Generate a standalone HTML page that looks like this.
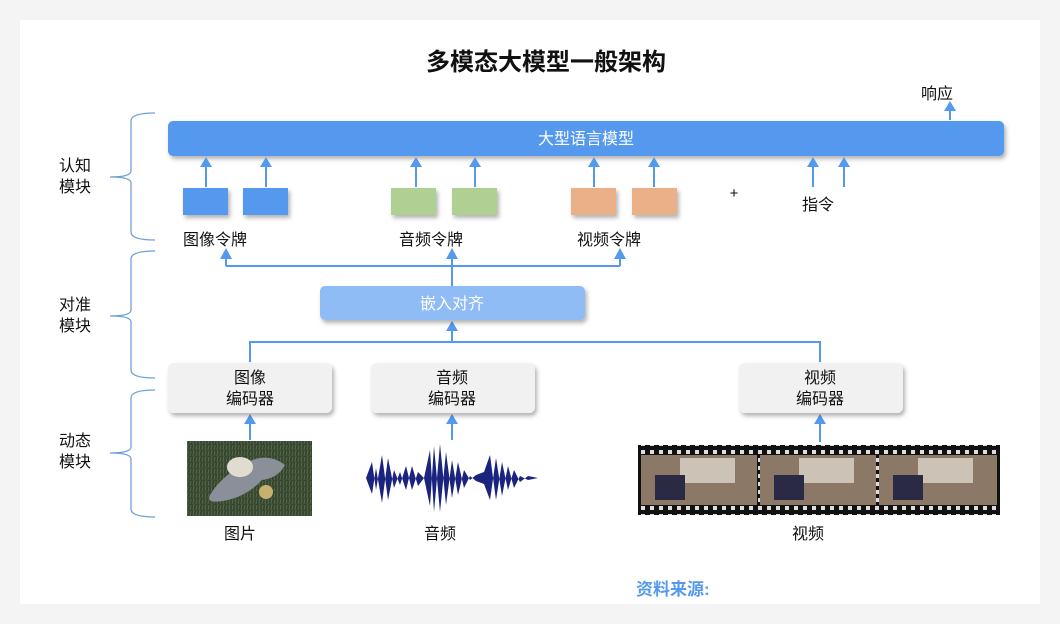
<!DOCTYPE html>
<html><head><meta charset="utf-8"><style>
html,body{margin:0;padding:0;background:#f4f4f4;}
svg{display:block;font-family:"Liberation Sans","Noto Sans CJK SC",sans-serif;}
</style></head><body>
<svg width="1060" height="624" viewBox="0 0 1060 624" xmlns="http://www.w3.org/2000/svg">
<defs>
<filter id="sh" x="-10%" y="-30%" width="120%" height="170%"><feDropShadow dx="2" dy="3" stdDeviation="2" flood-color="#000" flood-opacity="0.3"/></filter>
<pattern id="grass" width="6" height="6" patternUnits="userSpaceOnUse"><rect width="6" height="6" fill="#35452e"/><path d="M1 6 L2 0 M4 6 L5 1" stroke="#56684a" stroke-width="1"/></pattern>
<pattern id="perf" width="9" height="8" patternUnits="userSpaceOnUse"><rect width="9" height="8" fill="#111"/><rect x="2" y="2" width="4" height="4" fill="#ddd"/></pattern>
</defs>
<rect x="20" y="20" width="1020" height="584" fill="#fff"/>
<text x="546" y="70" font-size="24" font-weight="bold" text-anchor="middle" fill="#111">多模态大模型一般架构</text>

<g fill="none" stroke="#6fa0d8" stroke-width="1.3">
<path d="M155,113 Q131,113 131,121 L131,171 Q131,177 110,177 Q131,177 131,183 L131,232 Q131,240 155,240"/>
<path d="M155,251 Q131,251 131,259 L131,310 Q131,316 110,316 Q131,316 131,322 L131,370 Q131,378 155,378"/>
<path d="M155,390 Q131,390 131,398 L131,447 Q131,453 110,453 Q131,453 131,459 L131,509 Q131,517 155,517"/>
</g>
<g font-size="16" fill="#111">
<text x="59" y="171">认知</text><text x="59" y="192">模块</text>
<text x="59" y="310">对准</text><text x="59" y="331">模块</text>
<text x="59" y="446">动态</text><text x="59" y="467">模块</text>
</g>

<rect x="168" y="121" width="836" height="35" rx="5" fill="#5599ee" filter="url(#sh)"/>
<text x="586" y="144" font-size="16" fill="#fff" text-anchor="middle">大型语言模型</text>
<text x="937" y="99" font-size="16" fill="#111" text-anchor="middle">响应</text>

<g stroke="#5599ee" stroke-width="2" fill="none">
<path d="M950,120 V110"/>
<path d="M206,187 V166 M266,187 V166 M416,187 V166 M475,187 V166 M594,187 V166 M654,187 V166 M813,187 V166 M844,187 V166"/>
<path d="M226,266 H620 M226,266 V258 M620,266 V258 M452,286 V258"/>
<path d="M250,362 V342 H820 V362 M452,342 V330"/>
<path d="M250,440 V423 M452,440 V423 M820,442 V423"/>
</g>
<g fill="#5599ee">
<path d="M944,111 L950,101 L956,111Z"/>
<path d="M200,167 L206,157 L212,167Z M260,167 L266,157 L272,167Z M410,167 L416,157 L422,167Z M469,167 L475,157 L481,167Z M588,167 L594,157 L600,167Z M648,167 L654,157 L660,167Z M807,167 L813,157 L819,167Z M838,167 L844,157 L850,167Z"/>
<path d="M220,259 L226,248 L232,259Z M614,259 L620,248 L626,259Z M446,259 L452,248 L458,259Z"/>
<path d="M446,331 L452,321 L458,331Z"/>
<path d="M244,424 L250,414 L256,424Z M446,424 L452,414 L458,424Z M814,424 L820,414 L826,424Z"/>
</g>

<g filter="url(#sh)">
<rect x="183" y="188" width="45" height="27" fill="#5599ee"/>
<rect x="243" y="188" width="45" height="27" fill="#5599ee"/>
<rect x="391" y="188" width="45" height="27" fill="#b0cf92"/>
<rect x="452" y="188" width="45" height="27" fill="#b0cf92"/>
<rect x="571" y="188" width="45" height="27" fill="#ebb088"/>
<rect x="632" y="188" width="45" height="27" fill="#ebb088"/>
</g>
<text x="734" y="198" font-size="15" fill="#111" text-anchor="middle">+</text>
<g font-size="16" fill="#111" text-anchor="middle">
<text x="818" y="210">指令</text>
<text x="215" y="245">图像令牌</text>
<text x="431" y="245">音频令牌</text>
<text x="609" y="245">视频令牌</text>
</g>

<rect x="320" y="286" width="265" height="34" rx="5" fill="#8fbcf5" filter="url(#sh)"/>
<text x="452" y="309" font-size="16" fill="#fff" text-anchor="middle">嵌入对齐</text>

<g filter="url(#sh)" fill="#f1f1f1">
<rect x="168" y="363" width="164" height="50" rx="6"/>
<rect x="371" y="363" width="164" height="50" rx="6"/>
<rect x="739" y="363" width="164" height="50" rx="6"/>
</g>
<g font-size="16" fill="#111" text-anchor="middle">
<text x="250" y="383">图像</text><text x="250" y="404">编码器</text>
<text x="452" y="383">音频</text><text x="452" y="404">编码器</text>
<text x="820" y="383">视频</text><text x="820" y="404">编码器</text>
</g>

<rect x="187" y="441" width="125" height="75" fill="url(#grass)"/>
<path d="M210,495 Q222,475 248,462 Q268,452 285,465 Q278,478 262,480 Q248,495 228,500 Q205,505 210,495Z" fill="#8a8f9a"/>
<ellipse cx="240" cy="467" rx="13" ry="10" fill="#e0dcd0"/>
<circle cx="266" cy="492" r="7" fill="#c8b070"/>

<g fill="#1a237e">
<path d="M366,478 L372,462 L376,490 L382,455 L388,500 L394,470 L400,485 L406,466 L412,490 L418,472 L424,478 L430,450 L434,512 L440,444 L446,505 L452,460 L458,495 L464,470 L470,480 L476,475 L484,472 L490,455 L496,500 L502,462 L508,490 L514,470 L520,482 L528,476 L538,478 L528,480 L520,476 L514,488 L508,466 L502,496 L496,458 L490,500 L484,484 L476,481 L470,476 L464,488 L458,462 L452,498 L446,452 L440,512 L434,446 L430,506 L424,478 L418,486 L412,466 L406,490 L400,472 L394,488 L388,458 L382,503 L376,468 L372,494 Z"/>
</g>

<rect x="638" y="445" width="362" height="70" fill="url(#perf)"/>
<rect x="641" y="455" width="116" height="50" fill="#8b7866"/>
<rect x="760" y="455" width="116" height="50" fill="#8b7866"/>
<rect x="879" y="455" width="118" height="50" fill="#8b7866"/>
<g fill="#d8cfc4" opacity="0.85">
<rect x="680" y="458" width="55" height="25"/><rect x="799" y="458" width="55" height="25"/><rect x="918" y="458" width="55" height="25"/>
</g>
<g fill="#2a2a44"><rect x="655" y="475" width="30" height="25"/><rect x="774" y="475" width="30" height="25"/><rect x="893" y="475" width="30" height="25"/></g>

<g font-size="16" fill="#111" text-anchor="middle">
<text x="240" y="539">图片</text>
<text x="440" y="539">音频</text>
<text x="808" y="539">视频</text>
</g>
<text x="636" y="595" font-size="17" font-weight="bold" fill="#5599ee">资料来源:</text>
</svg>
</body></html>
